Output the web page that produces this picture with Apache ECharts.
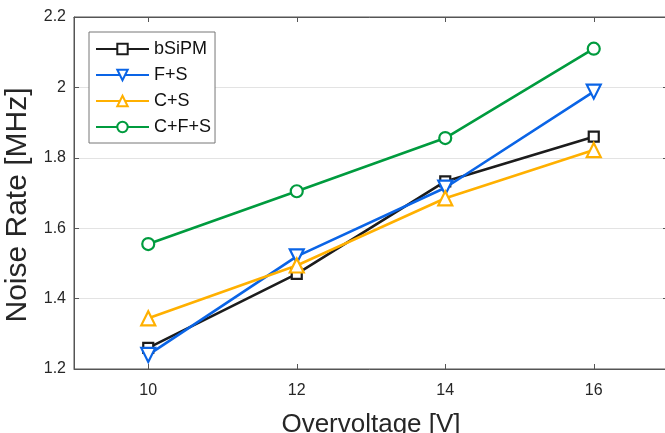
<!DOCTYPE html>
<html>
<head>
<meta charset="utf-8">
<script src="https://cdn.jsdelivr.net/npm/echarts@6/dist/echarts.min.js"></script>
<style>
  html, body { margin: 0; padding: 0; background: #fff; }
  #chart { width: 665px; height: 433px; }
</style>
</head>
<body>
<div id="chart"></div>
<script>
// overvoltage values (x)
const voltages = [10, 12, 14, 16];
const xTicks = [10, 12, 14, 16];
// noise rate [MHz]
const bSiPM = [1.26, 1.47, 1.733, 1.86];
const fs = [1.24, 1.52, 1.715, 1.988];
const cs = [1.344, 1.494, 1.685, 1.822];
const cfs = [1.555, 1.705, 1.856, 2.11];

const fontFamily = "Liberation Sans, Arial, sans-serif";
const axisColor = "#555";

function pairs(vals) {
  return voltages.map((v, i) => [v, vals[i]]);
}

function makeSeries(name, vals, color, symbol, rotate) {
  return {
    name: name,
    type: "line",
    data: pairs(vals),
    symbol: symbol,
    symbolSize: symbol === "rect" ? 10 : (symbol === "circle" ? 12 : 14),
    symbolRotate: rotate || 0,
    showAllSymbol: true,
    lineStyle: { color: color, width: 2.6 },
    itemStyle: { color: "#fff", borderColor: color, borderWidth: 2.2 },
    emphasis: { disabled: true },
    z: 3,
  };
}

const chart = echarts.init(document.getElementById("chart"), null, { renderer: "canvas" });

const option = {
  animation: false,
  backgroundColor: "#fff",
  grid: {
    left: 74,
    right: -3,
    top: 17,
    bottom: 64,
    outerBoundsMode: "none",
    containLabel: false,
    show: true,
    borderColor: axisColor,
    borderWidth: 1,
  },
  legend: {
    left: 89,
    top: 32,
    orient: "vertical",
    itemWidth: 53,
    itemHeight: 13,
    itemGap: 8,
    padding: [8, 4, 7, 6],
    backgroundColor: "#fff",
    borderColor: "#777",
    borderWidth: 1,
    textStyle: { fontFamily: fontFamily, fontSize: 18, color: "#111" },
    data: ["bSiPM", "F+S", "C+S", "C+F+S"],
  },
  xAxis: [
    {
      type: "value",
      min: 9,
      max: 17,
      name: "Overvoltage [V]",
      nameLocation: "middle",
      nameGap: 43,
      nameTextStyle: { fontFamily: fontFamily, fontSize: 26, color: "#262626" },
      axisLine: { show: true, lineStyle: { color: axisColor } },
      axisTick: { show: true, inside: true, length: 5, customValues: xTicks, lineStyle: { color: axisColor } },
      axisLabel: { customValues: xTicks, fontFamily: fontFamily, fontSize: 16, color: "#262626", margin: 14 },
      splitLine: { show: false },
    },
    {
      type: "value",
      position: "top",
      min: 9,
      max: 17,
      axisLine: { show: true, lineStyle: { color: axisColor } },
      axisTick: { show: true, inside: true, length: 5, customValues: xTicks, lineStyle: { color: axisColor } },
      axisLabel: { show: false },
      splitLine: { show: false },
    },
  ],
  yAxis: [
    {
      type: "value",
      min: 1.2,
      max: 2.2,
      interval: 0.2,
      name: "Noise Rate [MHz]",
      nameLocation: "middle",
      nameGap: 35,
      nameTextStyle: { fontFamily: fontFamily, fontSize: 30, color: "#262626", padding: [0, 24, 0, 0] },
      axisLine: { show: true, lineStyle: { color: axisColor } },
      axisTick: { show: true, inside: true, length: 5, lineStyle: { color: axisColor } },
      axisLabel: {
        fontFamily: fontFamily,
        fontSize: 16,
        color: "#262626",
        margin: 8,
        formatter: (v) => String(Math.round(v * 10) / 10),
      },
      splitLine: { show: true, lineStyle: { color: "#e3e3e3", width: 1 } },
    },
    {
      type: "value",
      position: "right",
      min: 1.2,
      max: 2.2,
      interval: 0.2,
      axisLine: { show: true, lineStyle: { color: axisColor } },
      axisTick: { show: true, inside: true, length: 5, lineStyle: { color: axisColor } },
      axisLabel: { show: false },
      splitLine: { show: false },
    },
  ],
  series: [
    makeSeries("bSiPM", bSiPM, "#1c1c1c", "rect"),
    makeSeries("F+S", fs, "#0a64e6", "triangle", 180),
    makeSeries("C+S", cs, "#ffb000", "triangle"),
    makeSeries("C+F+S", cfs, "#009b3e", "circle"),
  ],
};

chart.setOption(option);
</script>
</body>
</html>
